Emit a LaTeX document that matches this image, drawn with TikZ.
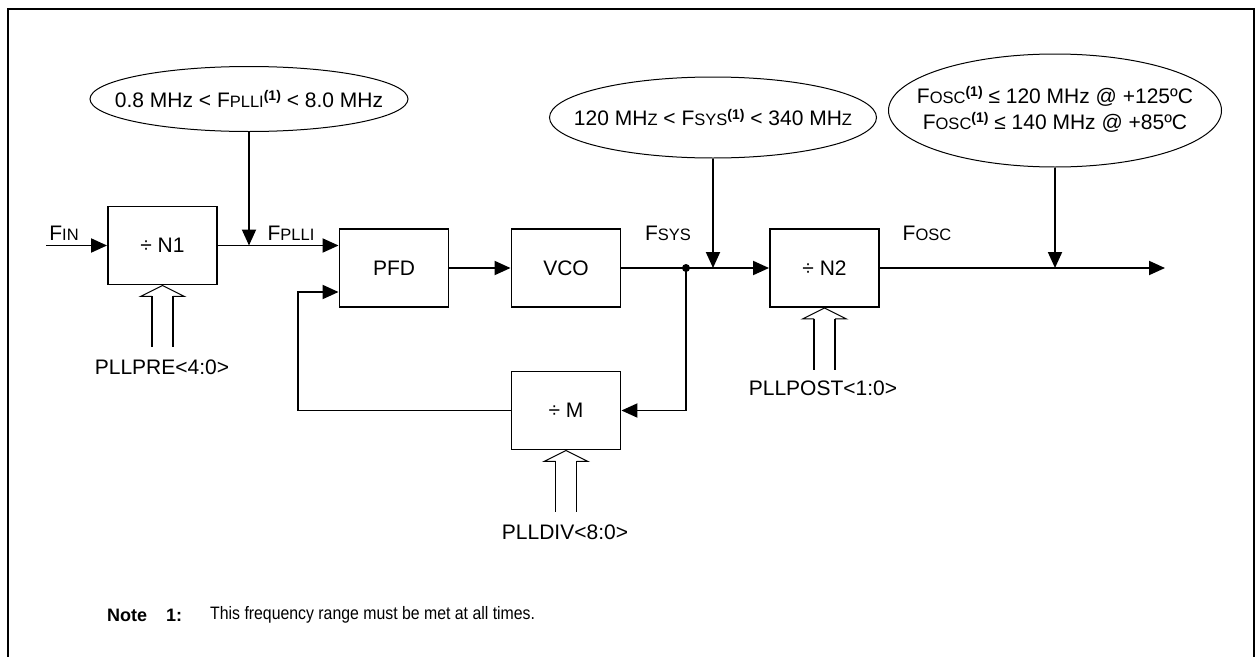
\documentclass[tikz,border=0pt]{standalone}
\usepackage{fontspec}
\setmainfont{Liberation Sans}
\usetikzlibrary{arrows.meta,shapes.geometric,calc}
\newcommand\smc[1]{{\fontsize{16.5}{16.5}\selectfont #1}}
\newcommand\supone{\raisebox{6.5pt}{\fontsize{14}{14}\selectfont\bfseries (1)}}
\newcommand\busarrow[1]{%
  \draw[line width=1pt,line join=miter] ($(#1)+(-10.5,11)$) -- ++(-11.5,0) -- (#1) -- ++(22,11) -- ++(-11.5,0);
  \draw[line width=1.8pt] ($(#1)+(-10.5,11)$) -- ++(0,51);
  \draw[line width=1.8pt] ($(#1)+(10.5,11)$) -- ++(0,51);}
\begin{document}
\begin{tikzpicture}[x=1pt,y=-1pt,
  blk/.style={draw,line width=1.9pt,minimum width=109pt,minimum height=78pt,inner sep=0pt,font=\fontsize{21}{21}\selectfont},
  ell/.style={draw,ellipse,line width=1pt,inner sep=0pt},
  etxt/.style={font=\fontsize{21}{26}\selectfont,align=center,inner sep=0pt},
  sig/.style={line width=1.9pt,-{Triangle[length=16pt,width=14pt]}},
  lbl/.style={font=\fontsize{21}{21}\selectfont,inner sep=0pt},
  notef/.style={font=\fontsize{18}{18}\selectfont,inner sep=0pt,anchor=west}]
\useasboundingbox (0,0) rectangle (1258,656);
\draw[line width=2pt] (8,9) rectangle (1254,690);

% blocks
\node[blk] (n1) at (162.5,245.5) {÷ N1};
\node[blk] (pfd) at (394,268) {PFD};
\node[blk] (vco) at (566,268) {VCO};
\node[blk] (n2) at (824.5,268) {÷ N2};
\node[blk] (m) at (566,410.5) {÷ M};

% ellipses
\node[ell,minimum width=318pt,minimum height=65pt] (e1) at (249,99) {};
\node[etxt] (t1) at (e1) {0.8 MHz < F\smc{PLLI}\supone{} < 8.0 MHz};
\node[ell,minimum width=327pt,minimum height=81pt] (e2) at (713,117.5) {};
\node[etxt] (t2) at (e2) {120 MH\smc{Z} < F\smc{SYS}\supone{} < 340 MH\smc{Z}};
\node[ell,minimum width=333pt,minimum height=113pt] (e3) at (1055,110.5) {};
\node[etxt] (t3) at ([yshift=1pt]e3.center) {F\smc{OSC}\supone{} ≤ 120 MHz @ +125ºC\\F\smc{OSC}\supone{} ≤ 140 MHz @ +85ºC};

% coordinates
\coordinate (fin) at (46,245.5);
\coordinate (j) at (686,268);
\coordinate (fb) at (298,292);
\coordinate (out) at (1165,268);

% signal labels
\node[lbl] (lfin) at (64,233) {F\smc{IN}};
\node[lbl] (lplli) at (291,233) {F\smc{PLLI}};
\node[lbl] (lsys) at (668,233) {F\smc{SYS}};
\node[lbl] (losc) at (927,233) {F\smc{OSC}};

% connectors
\draw[sig] (fin) -- (n1.west);
\draw[sig] (n1.east) -- (n1.east -| pfd.west);
\draw[sig] (e1.south) -- (e1.south |- n1.east);
\draw[sig] (pfd.east) -- (vco.west);
\draw[sig] (vco.east) -- (n2.west);
\draw[sig] (e2.south) -- (e2.south |- n2.west);
\draw[sig] (n2.east) -- (out);
\draw[sig] (e3.south) -- (e3.south |- out);
\draw[sig] (j) |- (m.east);
\draw[sig] (m.west) -| (fb) -- (fb -| pfd.west);
\fill (j) circle (4pt);

% bus arrows
\busarrow{n1.south}
\busarrow{m.south}
\busarrow{n2.south}
\node[lbl] (lpre) at (162,367) {PLLPRE<4:0>};
\node[lbl] (ldiv) at (565,532) {PLLDIV<8:0>};
\node[lbl] (lpost) at (823,388) {PLLPOST<1:0>};

% note
\node[notef,font=\fontsize{18}{18}\selectfont\bfseries] (nt) at (107,615) {Note};
\node[notef,font=\fontsize{18}{18}\selectfont\bfseries] (nt1) at (166,615) {1:};
\node[notef] (ntx) at (210,615) {\scalebox{0.88}[1]{This frequency range must be met at all times.}};
\end{tikzpicture}
\end{document}
